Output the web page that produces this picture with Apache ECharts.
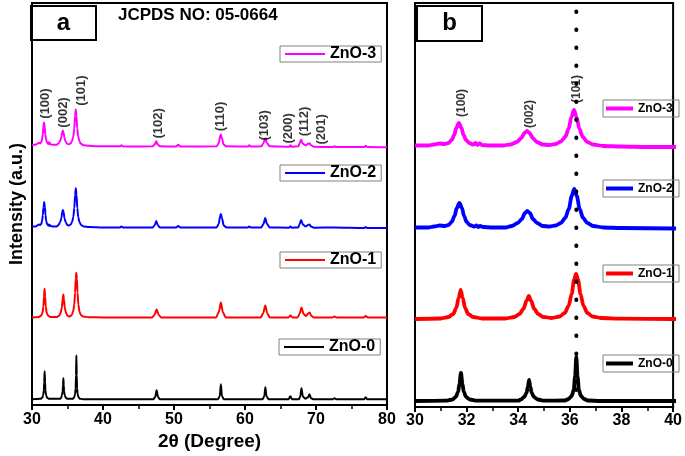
<!DOCTYPE html>
<html>
<head>
<meta charset="utf-8">
<script src="https://cdn.jsdelivr.net/npm/echarts@6/dist/echarts.min.js"></script>
<style>
html,body{margin:0;padding:0;background:#fff;}
#chart{width:685px;height:456px;}
</style>
</head>
<body>
<div id="chart"></div>
<script>
// ---- Data (2θ in degrees, relative intensity in a.u. above each pattern's own baseline) ----
const seriesNames = ['ZnO-3', 'ZnO-2', 'ZnO-1', 'ZnO-0'];
const seriesColors = ['#ff00ff', '#0000ff', '#ff0000', '#000000'];
const stackOffsets = [259, 178, 88, 6];

const zno3 = [
[30.0,2.5],[30.5,2.5],[30.75,3.5],[30.95,4.5],[31.15,4],[31.3,5],[31.42,8],[31.52,13],[31.6,20],[31.7,25],[31.8,20],[31.88,13],[31.98,8],[32.1,5],[32.25,3.5],[32.35,5],[32.42,3],[32.5,4.5],[32.6,3],[32.9,2.5],[33.4,2.5],[33.7,3.5],[33.95,6],[34.12,10],[34.24,15],[34.34,17],[34.44,15],[34.56,10],[34.72,6],[34.95,3.5],[35.2,3],[35.45,4],[35.65,6.5],[35.82,11],[35.95,19],[36.06,31],[36.16,38],[36.26,31],[36.37,19],[36.5,11],[36.68,6],[36.9,3.5],[37.3,2],[38.0,1.5],[39,1],[40,1],[41.5,1],[42.4,1],[42.6,2],[42.8,1],[44,0.8],[47.0,1],[47.3,3],[47.5,6],[47.7,3],[48.0,1],[50.3,0.8],[50.6,2.5],[50.9,0.8],[56.0,1],[56.3,4],[56.5,11],[56.6,13],[56.75,9],[57.0,2.5],[57.4,1],[60.4,0.8],[60.6,2],[60.8,0.8],[62.3,1],[62.6,4],[62.85,9],[63.1,4],[63.5,1],[66.2,0.5],[66.4,2],[66.6,0.5],[67.5,1],[67.7,4],[67.9,7.5],[68.15,3.5],[68.5,2],[68.9,3.5],[69.1,4],[69.3,2],[69.7,0.5],[72.4,0.3],[72.6,1],[72.8,0.3],[76.8,0.3],[77.0,1.5],[77.2,0.3],[80,0]
];
const zno2 = [
[30.0,1.5],[30.5,1.5],[30.75,2.5],[30.95,3.5],[31.15,3],[31.3,4],[31.42,7],[31.53,13],[31.62,21],[31.72,26],[31.82,21],[31.9,13],[32.0,7],[32.12,4],[32.3,2.5],[32.38,3.5],[32.45,2],[32.52,3],[32.65,2],[33.0,1.5],[33.5,1.5],[33.75,3],[33.98,6],[34.14,10],[34.26,16],[34.35,18],[34.45,16],[34.57,10],[34.73,6],[34.95,3],[35.2,2.5],[35.45,3.5],[35.65,6],[35.82,11],[35.96,20],[36.07,33],[36.17,40],[36.27,33],[36.38,20],[36.51,11],[36.68,6],[36.9,3],[37.3,1.5],[38,1],[40,0.5],[42.4,0.5],[42.6,1.5],[42.8,0.5],[47.0,0.5],[47.3,3],[47.5,7],[47.7,3],[48.0,0.5],[50.3,0.5],[50.6,2],[50.9,0.5],[56.0,0.5],[56.3,4],[56.5,12],[56.6,14],[56.75,10],[57.0,2.5],[57.4,0.5],[60.4,0.5],[60.6,1.5],[60.8,0.5],[62.3,0.5],[62.6,4],[62.85,10],[63.1,4],[63.5,0.5],[66.2,0.3],[66.4,1.5],[66.6,0.3],[67.5,0.5],[67.7,4],[67.9,8],[68.15,3.5],[68.5,1.5],[68.9,3],[69.1,3.5],[69.3,1.5],[69.7,0.3],[72.6,0.5],[76.8,0],[77,1],[77.2,0],[80,0]
];
const zno1 = [
[30,0],[31.0,0.5],[31.3,2],[31.48,5],[31.6,11],[31.69,21],[31.77,29],[31.85,21],[31.94,11],[32.06,5],[32.25,2],[32.6,0.5],[33.5,0.5],[33.85,2],[34.05,5],[34.2,10],[34.32,18],[34.41,23],[34.5,18],[34.62,10],[34.77,5],[34.97,2],[35.3,1],[35.6,2.5],[35.8,6],[35.95,13],[36.07,25],[36.16,39],[36.24,45],[36.32,39],[36.41,25],[36.53,13],[36.68,6],[36.88,2.5],[37.2,1],[38,0.3],[40,0],[46.9,0],[47.25,2.5],[47.55,8],[47.85,2.5],[48.2,0],[55.9,0],[56.3,5],[56.6,15],[56.9,5],[57.3,0],[62.2,0],[62.55,4],[62.85,12],[63.15,4],[63.5,0],[66.1,0],[66.4,2],[66.7,0],[67.4,0],[67.7,4],[67.95,10],[68.25,3.5],[68.6,1.5],[68.9,4],[69.1,5],[69.35,1.5],[69.7,0],[72.3,0],[72.6,1],[72.9,0],[76.7,0],[77.0,1.5],[77.3,0],[80,0]
];
const zno0 = [
[30,0],[31.2,0.3],[31.45,1.5],[31.58,4],[31.67,9],[31.72,17],[31.78,28],[31.84,17],[31.89,9],[31.98,4],[32.12,1.5],[32.4,0.3],[34.0,0.3],[34.1,1.5],[34.23,4],[34.32,8],[34.37,14],[34.42,21],[34.47,14],[34.52,8],[34.61,4],[34.75,1.5],[35.0,0.3],[35.8,0.5],[35.95,2],[36.07,5],[36.15,11],[36.2,24],[36.25,44],[36.3,24],[36.35,11],[36.43,5],[36.55,2],[36.7,0.5],[37.2,0],[40,0],[47.1,0],[47.35,2],[47.55,9],[47.75,2],[48.0,0],[56.2,0],[56.45,3],[56.6,15],[56.75,3],[57.0,0],[62.5,0],[62.72,3],[62.87,12],[63.02,3],[63.3,0],[66.15,0],[66.38,3],[66.6,0],[67.6,0],[67.8,3],[67.95,11],[68.15,2.5],[68.5,0.5],[68.9,2],[69.08,5],[69.3,1],[69.6,0],[72.4,0],[72.6,1],[72.8,0],[76.8,0],[77.0,2],[77.2,0],[80,0]
];
const profiles = [zno3, zno2, zno1, zno0];

// Miller index labels: [text, 2θ, intensity position]
const hklLabelsA = [
['(100)',31.95,303],['(002)',34.4,294],['(101)',37.0,316],['(102)',47.8,283],['(110)',56.6,290],
['(103)',62.7,281],['(200)',66.1,278],['(112)',68.4,285],['(201)',70.8,277]
];
const hklLabelsB = [['(100)',31.8,304],['(002)',34.45,293],['(101)',36.27,318]];
const refLine2Theta = 36.25;
const refLineRange = [17, 404];

const ticksA = {min:30, max:80, interval:10};
const ticksB = {min:30, max:40, interval:2};
const yRange = {min:0, max:404};

// ---- Chart ----
const FONT = 'Liberation Sans, Arial, sans-serif';
const chart = echarts.init(document.getElementById('chart'), null, {renderer:'canvas'});

function xAxisCfg(t, idx, name) {
  return {
    type:'value', gridIndex:idx, min:t.min, max:t.max, interval:t.interval,
    name: name || '', nameLocation:'middle', nameGap:22,
    nameTextStyle:{fontFamily:FONT, fontWeight:'bold', fontSize:19, color:'#000'},
    axisLine:{show:true, onZero:false, lineStyle:{color:'#000', width:2}},
    axisTick:{show:true, inside:false, length:5, lineStyle:{color:'#000', width:2}},
    minorTick:{show:true, splitNumber:2, length:4, lineStyle:{color:'#000', width:1.5}},
    axisLabel:{fontFamily:FONT, fontWeight:'bold', fontSize:16, color:'#000', margin:6},
    splitLine:{show:false}
  };
}
function yAxisCfg(idx, name) {
  return {
    type:'value', gridIndex:idx, min:yRange.min, max:yRange.max,
    name: name || '', nameLocation:'middle', nameGap:6,
    nameTextStyle:{fontFamily:FONT, fontWeight:'bold', fontSize:18, color:'#000'},
    axisLine:{show:true, lineStyle:{color:'#000', width:2}},
    axisTick:{show:false}, axisLabel:{show:false}, splitLine:{show:false}
  };
}

const series = [];
profiles.forEach((p, i) => {
  const shifted = p.map(d => [d[0], d[1] + stackOffsets[i]]);
  series.push({
    type:'line', name:seriesNames[i], xAxisIndex:0, yAxisIndex:0, data:shifted,
    showSymbol:false, symbol:'none', smooth:0.3, smoothMonotone:'x',
    lineStyle:{color:seriesColors[i], width:2}, itemStyle:{color:seriesColors[i]}, z:3
  });
  series.push({
    type:'line', name:seriesNames[i], xAxisIndex:1, yAxisIndex:1, data:shifted,
    showSymbol:false, symbol:'none', smooth:0.3, smoothMonotone:'x', clip:true,
    lineStyle:{color:seriesColors[i], width:3.8}, itemStyle:{color:seriesColors[i]}, z:3
  });
});

function labelSeries(arr, axisIdx, size) {
  return {
    type:'scatter', xAxisIndex:axisIdx, yAxisIndex:axisIdx, symbolSize:0.1, silent:true,
    data: arr.map(d => ({name:d[0], value:[d[1], d[2]]})),
    label:{show:true, position:'inside', rotate:90, formatter:'{b}', fontFamily:FONT,
      fontWeight:'bold', fontSize:size, color:'#000'},
    itemStyle:{color:'transparent'}, z:4
  };
}
series.push(labelSeries(hklLabelsA, 0, 13));
series.push(labelSeries(hklLabelsB, 1, 12));

series.push({
  type:'line', xAxisIndex:1, yAxisIndex:1, silent:true,
  data:[[refLine2Theta, refLineRange[0]], [refLine2Theta, refLineRange[1]]],
  showSymbol:false, symbol:'none',
  lineStyle:{color:'#000', width:4, type:[0.5, 17.5], cap:'round'}, z:6
});

function legendCfg(name, left, top, a) {
  return a ? {
    data:[name], left:left, top:top, icon:'rect', itemWidth:40, itemHeight:2,
    padding:[0,5,0,5], borderColor:'#808080', borderWidth:1, selectedMode:false,
    textStyle:{fontFamily:FONT, fontWeight:'bold', fontSize:16, lineHeight:16, color:'#000'}
  } : {
    data:[name], left:left, top:top, icon:'rect', itemWidth:27, itemHeight:4,
    padding:[1,3,1,3], borderColor:'#808080', borderWidth:1, selectedMode:false,
    textStyle:{fontFamily:FONT, fontWeight:'bold', fontSize:12, lineHeight:15, color:'#000',
      width:38, overflow:'none'}
  };
}

const option = {
  animation:false,
  backgroundColor:'#fff',
  title:{text:'JCPDS NO: 05-0664', left:118, top:7, padding:0,
    textStyle:{fontFamily:FONT, fontWeight:'bold', fontSize:17, color:'#000'}},
  grid:[
    {left:26, right:298, top:3, bottom:49, show:true, borderColor:'#000', borderWidth:2, backgroundColor:'transparent'},
    {left:415, right:7, top:3, bottom:49, show:true, borderColor:'#000', borderWidth:2, backgroundColor:'transparent'}
  ],
  xAxis:[xAxisCfg(ticksA, 0, '2θ (Degree)'), xAxisCfg(ticksB, 1)],
  yAxis:[yAxisCfg(0, 'Intensity (a.u.)'), yAxisCfg(1)],
  legend:[
    legendCfg('ZnO-3', 280, 46, true), legendCfg('ZnO-2', 280, 165, true),
    legendCfg('ZnO-1', 280, 252, true), legendCfg('ZnO-0', 279, 339, true),
    legendCfg('ZnO-3', 603, 100, false), legendCfg('ZnO-2', 603, 180, false),
    legendCfg('ZnO-1', 603, 265, false), legendCfg('ZnO-0', 603, 355, false)
  ],
  graphic:[
    {type:'group', left:30, top:5, children:[
      {type:'rect', shape:{x:1, y:1, width:65, height:34}, style:{fill:'#fff', stroke:'#000', lineWidth:2}},
      {type:'text', x:33.5, y:18, style:{text:'a', font:'bold 24px ' + FONT, fill:'#000',
        textAlign:'center', textVerticalAlign:'middle', align:'center', verticalAlign:'middle'}}
    ]},
    {type:'group', left:416, top:5, children:[
      {type:'rect', shape:{x:1, y:1, width:65, height:35}, style:{fill:'#fff', stroke:'#000', lineWidth:2}},
      {type:'text', x:33.5, y:18.5, style:{text:'b', font:'bold 24px ' + FONT, fill:'#000',
        textAlign:'center', textVerticalAlign:'middle', align:'center', verticalAlign:'middle'}}
    ]}
  ],
  series:series
};
chart.setOption(option);
</script>
</body>
</html>
